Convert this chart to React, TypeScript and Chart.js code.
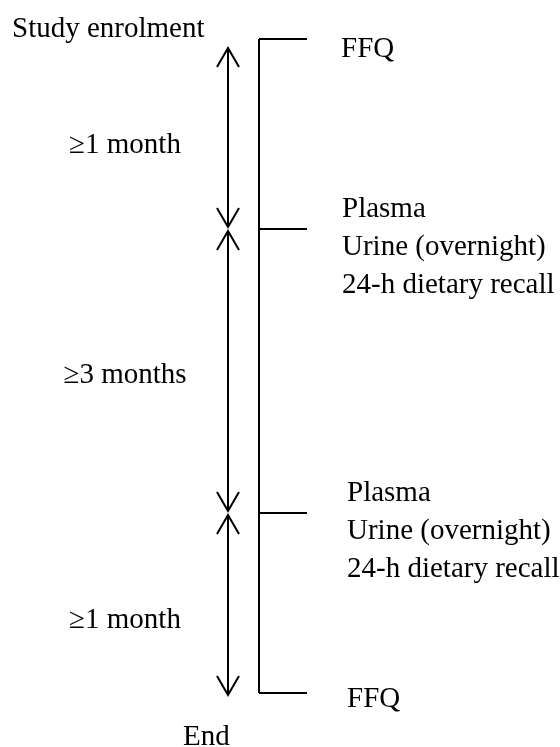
import React, { useEffect, useRef } from "react";
import { Chart, registerables } from "chart.js";

Chart.register(...registerables);

// ---- Timeline data (positions along the diagram's vertical timeline axis) ----
const milestones = [39, 229, 513, 693];
const milestoneNames = ["Study enrolment", "", "", "End"];
const intervalNames = ["≥1 month", "≥3 months", "≥1 month"];
const intervalStart = [48, 231, 515];
const intervalEnd = [227, 511, 695];
const intervalLabelBaseline = [153, 383, 628];
const measurements: string[][] = [
  ["FFQ"],
  ["Plasma", "Urine (overnight)", "24-h dietary recall"],
  ["Plasma", "Urine (overnight)", "24-h dietary recall"],
  ["FFQ"],
];

// ---- Layout / style constants ----
const W = 560;
const H = 747;
const BRACKET_X = 259;
const TICK_END_X = 307;
const ARROW_X = 228;
const INTERVAL_LABEL_X = 125;
const MEASURE_X = [341, 342, 347, 347];
const MEASURE_OFFSET = [18, -12, -12, 14];
const MEASURE_GAP = 38;
const MILESTONE_X = [12, 0, 0, 183];
const MILESTONE_OFFSET = [-2, 0, 0, 52];
const FONT = '29px "Liberation Serif", "Times New Roman", serif';
const INK = "#000";

const lineDs = (pts: { x: number; y: number }[]) => ({
  data: pts,
  showLine: true,
  borderColor: INK,
  borderWidth: 2,
  pointRadius: 0,
  fill: false,
  tension: 0,
  borderCapStyle: "butt" as const,
});

const diagramPlugin = {
  id: "diagram",
  afterDatasetsDraw(chart: any) {
    const { ctx, scales } = chart;
    const xs = scales.x;
    const ys = scales.y;
    const px = (v: number) => xs.getPixelForValue(v);
    const py = (v: number) => ys.getPixelForValue(v);
    ctx.save();
    // arrowheads (open V shapes)
    ctx.strokeStyle = INK;
    ctx.lineWidth = 2;
    ctx.lineJoin = "miter";
    const ax = px(ARROW_X);
    const head = (tipY: number, dir: number) => {
      ctx.beginPath();
      ctx.moveTo(ax - 11, tipY + dir * 19);
      ctx.lineTo(ax, tipY);
      ctx.lineTo(ax + 11, tipY + dir * 19);
      ctx.stroke();
    };
    intervalStart.forEach((s, i) => {
      head(py(s), 1);
      head(py(intervalEnd[i]), -1);
    });
    // text
    ctx.fillStyle = INK;
    ctx.font = FONT;
    ctx.textBaseline = "alphabetic";
    ctx.textAlign = "center";
    intervalNames.forEach((t, i) => {
      ctx.fillText(t, px(INTERVAL_LABEL_X), py(intervalLabelBaseline[i]));
    });
    ctx.textAlign = "left";
    milestoneNames.forEach((t, i) => {
      if (!t) return;
      ctx.fillText(t, px(MILESTONE_X[i]), py(milestones[i] + MILESTONE_OFFSET[i]));
    });
    measurements.forEach((lines, i) => {
      lines.forEach((t, j) => {
        ctx.fillText(
          t,
          px(MEASURE_X[i]),
          py(milestones[i] + MEASURE_OFFSET[i] + j * MEASURE_GAP)
        );
      });
    });
    ctx.restore();
  },
};

export default function App() {
  const ref = useRef<HTMLCanvasElement | null>(null);
  useEffect(() => {
    if (!ref.current) return;
    const datasets: any[] = [];
    datasets.push(
      lineDs([
        { x: BRACKET_X, y: milestones[0] },
        { x: BRACKET_X, y: milestones[milestones.length - 1] },
      ])
    );
    milestones.forEach((m) =>
      datasets.push(
        lineDs([
          { x: BRACKET_X, y: m },
          { x: TICK_END_X, y: m },
        ])
      )
    );
    intervalStart.forEach((s, i) =>
      datasets.push(
        lineDs([
          { x: ARROW_X, y: s },
          { x: ARROW_X, y: intervalEnd[i] },
        ])
      )
    );
    const chart = new Chart(ref.current, {
      type: "scatter",
      data: { datasets },
      options: {
        animation: false,
        responsive: false,
        events: [],
        layout: { padding: 0 },
        plugins: {
          legend: { display: false },
          tooltip: { enabled: false },
        },
        scales: {
          x: { type: "linear", min: 0, max: W, display: false },
          y: { type: "linear", min: 0, max: H, reverse: true, display: false },
        },
      },
      plugins: [diagramPlugin],
    });
    return () => chart.destroy();
  }, []);
  return (
    <div style={{ position: "absolute", left: 0, top: 0, width: W, height: H, background: "#fff" }}>
      <canvas ref={ref} width={W} height={H} style={{ display: "block", width: W, height: H }} />
    </div>
  );
}
